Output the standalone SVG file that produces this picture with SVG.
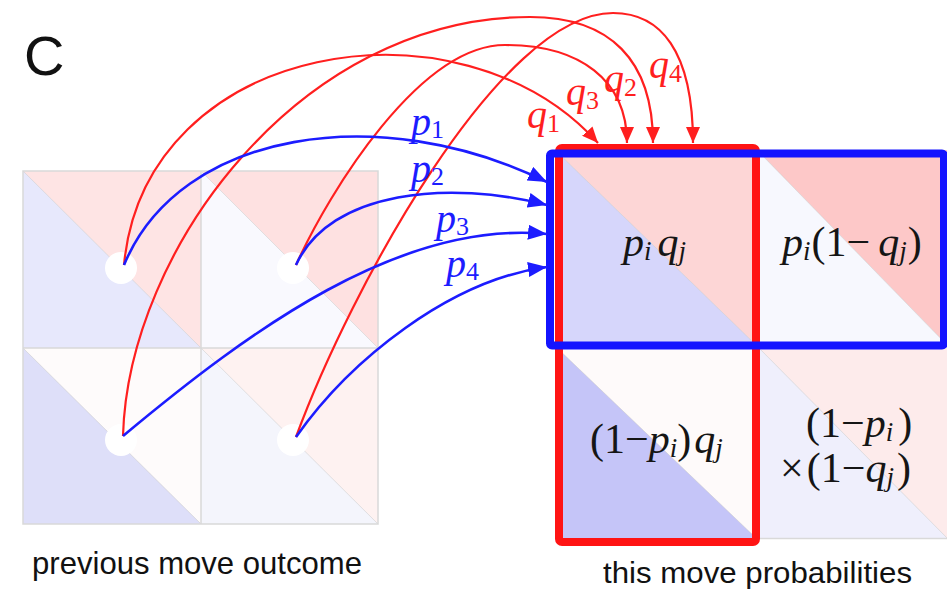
<svg xmlns="http://www.w3.org/2000/svg" width="947" height="591" viewBox="0 0 947 591">
<defs>
<marker id="ab" markerUnits="userSpaceOnUse" markerWidth="20" markerHeight="16" refX="19" refY="7.5" orient="auto"><path d="M0,0 L19,7.5 L0,15 z" fill="#1c1cff"/></marker>
<marker id="ar" markerUnits="userSpaceOnUse" markerWidth="18" markerHeight="14" refX="16" refY="7" orient="auto"><path d="M0,0 L16,7 L0,14 z" fill="#ff1f1f"/></marker>
</defs>
<style>
.grid{stroke:#d9d9d9;stroke-width:1.5;fill:none}
.dg{stroke:#c8c8c8;stroke-width:1;stroke-opacity:0.5}
.blue{fill:none;stroke:#1c1cff;stroke-width:2.6}
.red{fill:none;stroke:#ff1f1f;stroke-width:2.2}
.m{font-family:"Liberation Serif","Times New Roman",serif;font-style:italic;font-size:42px;fill:#151515}
.u{font-style:normal}
.s{font-size:27px}
.pl{font-family:"Liberation Serif","Times New Roman",serif;font-style:italic;font-size:40px;fill:#1c1cff}
.ql{font-family:"Liberation Serif","Times New Roman",serif;font-style:italic;font-size:40px;fill:#ff1f1f}
.sn{font-size:26px;font-style:normal}
.lab{font-family:"Liberation Sans",Arial,sans-serif;fill:#111}
.node{fill:#ffffff}
</style>
<rect width="947" height="591" fill="#ffffff"/>

<g id="label-C"><text class="lab" x="24" y="75" font-size="56">C</text></g>

<g id="prev-cell-1">
<path d="M23,171 L201,171 L201,348 z" fill="#fee4e4"/>
<path d="M23,171 L23,348 L201,348 z" fill="#e7e8fc"/>
<line class="dg" x1="23" y1="171" x2="201" y2="348"/>
</g>
<g id="prev-cell-2">
<path d="M201,171 L378,171 L378,348 z" fill="#fee1e1"/>
<path d="M201,171 L201,348 L378,348 z" fill="#f9f9fe"/>
<line class="dg" x1="201" y1="171" x2="378" y2="348"/>
</g>
<g id="prev-cell-3">
<path d="M23,348 L201,348 L201,524 z" fill="#fefbfb"/>
<path d="M23,348 L23,524 L201,524 z" fill="#dedff9"/>
<line class="dg" x1="23" y1="348" x2="201" y2="524"/>
</g>
<g id="prev-cell-4">
<path d="M201,348 L378,348 L378,524 z" fill="#fef2f1"/>
<path d="M201,348 L201,524 L378,524 z" fill="#f4f5fc"/>
<line class="dg" x1="201" y1="348" x2="378" y2="524"/>
</g>
<g id="prev-grid">
<rect class="grid" x="23" y="171" width="355" height="353"/>
<line class="grid" x1="201" y1="171" x2="201" y2="524"/>
<line class="grid" x1="23" y1="348" x2="378" y2="348"/>
</g>
<g id="nodes">
<circle class="node" cx="121" cy="268" r="16"/>
<circle class="node" cx="293" cy="268" r="16"/>
<circle class="node" cx="121" cy="440" r="16"/>
<circle class="node" cx="293" cy="440" r="16"/>
</g>

<g id="this-cell-11">
<path d="M555,150 L757,150 L757,346 z" fill="#fdd6d6"/>
<path d="M555,150 L555,346 L757,346 z" fill="#d6d6fb"/>
<line class="dg" x1="555" y1="150" x2="757" y2="346"/>
<text class="m" x="623" y="256">p<tspan class="s" dy="4">i</tspan><tspan dx="6" dy="-4">q</tspan><tspan class="s" dy="4">j</tspan></text>
</g>
<g id="this-cell-12">
<path d="M757,150 L948,150 L948,346 z" fill="#fdc8c8"/>
<path d="M757,150 L757,346 L948,346 z" fill="#f7f8fe"/>
<line class="dg" x1="757" y1="150" x2="948" y2="346"/>
<text class="m" x="782" y="256">p<tspan class="s" dy="4">i</tspan><tspan class="u" dx="1" dy="-4">(1−</tspan><tspan dx="8">q</tspan><tspan class="s" dy="4">j</tspan><tspan class="u" dx="1" dy="-4">)</tspan></text>
</g>
<g id="this-cell-21">
<path d="M555,346 L757,346 L757,539 z" fill="#fefafa"/>
<path d="M555,346 L555,539 L757,539 z" fill="#c5c5f8"/>
<line class="dg" x1="555" y1="346" x2="757" y2="539"/>
<text class="m" x="590" y="453"><tspan class="u">(1−</tspan>p<tspan class="s" dy="4">i</tspan><tspan class="u" dy="-4">)</tspan><tspan dx="3">q</tspan><tspan class="s" dy="4">j</tspan></text>
</g>
<g id="this-cell-22">
<path d="M757,346 L948,346 L948,539 z" fill="#fdebeb"/>
<path d="M757,346 L757,539 L948,539 z" fill="#efeffc"/>
<line class="dg" x1="757" y1="346" x2="948" y2="539"/>
<line class="grid" x1="757" y1="538.5" x2="947" y2="538.5"/>
<text class="m" x="806" y="437"><tspan class="u">(1−</tspan>p<tspan class="s" dy="4">i</tspan><tspan class="u" dx="5" dy="-4">)</tspan></text>
<text class="m" x="780" y="482"><tspan class="u">×</tspan><tspan class="u" dx="3">(1−</tspan>q<tspan class="s" dy="4">j</tspan><tspan class="u" dx="3" dy="-4">)</tspan></text>
</g>

<g id="q-highlight"><rect x="559" y="148" width="197" height="394" rx="3" fill="none" stroke="#ff1414" stroke-width="8"/></g>
<g id="p-highlight"><rect x="550" y="153.5" width="394" height="192" rx="2" fill="none" stroke="#1414ff" stroke-width="8"/></g>

<g id="connectors">
<path class="red" d="M124,265 C145,40 460,-10 598,143" marker-end="url(#ar)"/>
<path class="red" d="M296,265 C330,190 420,45 505,45 C580,45 627,80 627,143" marker-end="url(#ar)"/>
<path class="red" d="M123,436 C128,250 300,17 530,17 C610,17 653,60 653,143" marker-end="url(#ar)"/>
<path class="red" d="M296,437 C350,290 500,13 613,13 C660,13 693,50 693,143" marker-end="url(#ar)"/>
<path class="blue" d="M124,265 C180,130 380,100 547,182" marker-end="url(#ab)"/>
<path class="blue" d="M296,265 C330,190 450,180 547,205" marker-end="url(#ab)"/>
<path class="blue" d="M123,436 C250,330 400,220 547,234" marker-end="url(#ab)"/>
<path class="blue" d="M296,437 C350,360 450,280 547,267" marker-end="url(#ab)"/>
</g>

<g id="connector-labels">
<text class="pl" x="411" y="135">p<tspan class="sn" dy="3">1</tspan></text>
<text class="pl" x="411" y="182">p<tspan class="sn" dy="3">2</tspan></text>
<text class="pl" x="436" y="232">p<tspan class="sn" dy="3">3</tspan></text>
<text class="pl" x="446" y="277">p<tspan class="sn" dy="3">4</tspan></text>
<text class="ql" x="527" y="128">q<tspan class="sn" dy="4">1</tspan></text>
<text class="ql" x="566" y="105">q<tspan class="sn" dy="4">3</tspan></text>
<text class="ql" x="604" y="92">q<tspan class="sn" dy="4">2</tspan></text>
<text class="ql" x="649" y="78">q<tspan class="sn" dy="4">4</tspan></text>
</g>

<g id="captions">
<text class="lab" x="32" y="574" font-size="32" textLength="330" lengthAdjust="spacingAndGlyphs">previous move outcome</text>
<text class="lab" x="603" y="583" font-size="30" textLength="309" lengthAdjust="spacingAndGlyphs">this move probabilities</text>
</g>
</svg>
